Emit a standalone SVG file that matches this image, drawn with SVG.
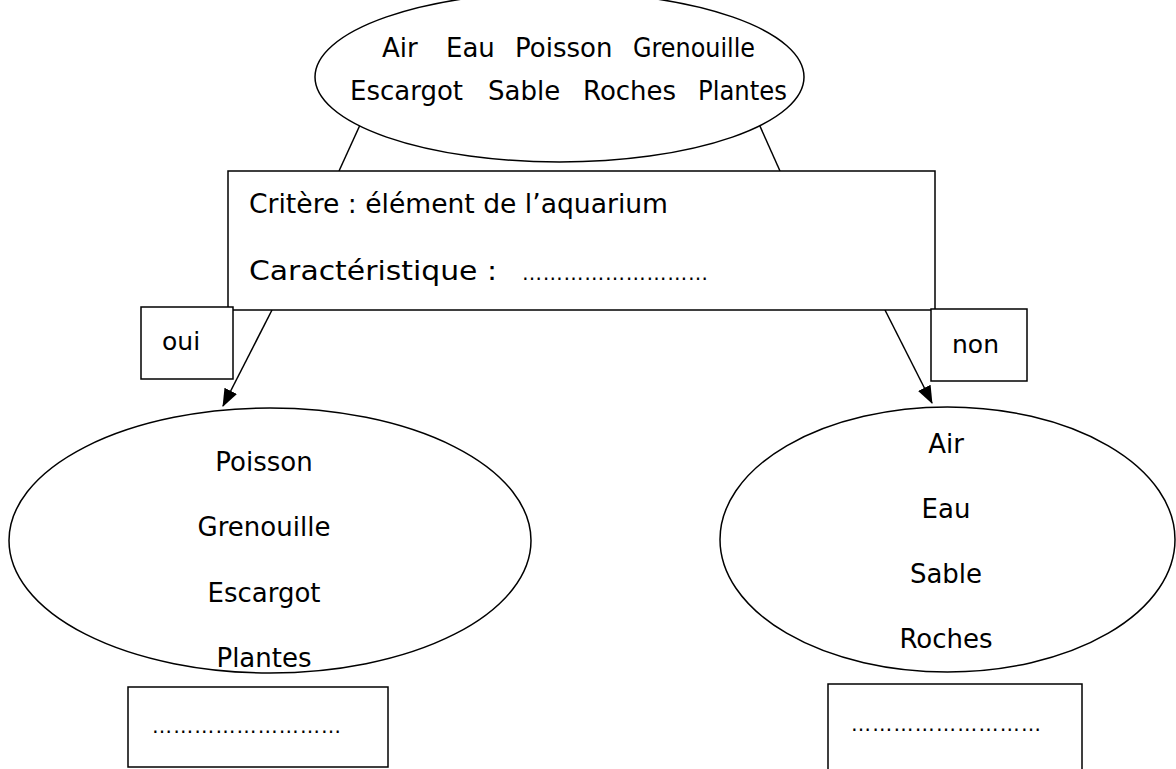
<svg xmlns="http://www.w3.org/2000/svg" width="1176" height="769" viewBox="0 0 1176 769">
<defs>
<style>
.shape{fill:#fff;stroke:#000;stroke-width:1.5}
.t{font-family:"DejaVu Sans",Verdana,sans-serif;font-size:26px;fill:#000}
.c{text-anchor:middle}
.s{font-family:"DejaVu Sans",Verdana,sans-serif;font-size:25px;fill:#000}
.d{font-family:"DejaVu Sans",sans-serif;font-size:20px;fill:#000}
.ln{stroke:#000;stroke-width:1.5;fill:none}
</style>
<marker id="arr" markerUnits="userSpaceOnUse" markerWidth="18" markerHeight="18" viewBox="0 0 18 18" refX="17" refY="9" orient="auto">
<path d="M0,2 L18,9 L0,16 Z" fill="#000"/>
</marker>
</defs>
<rect width="1176" height="769" fill="#fff"/>

<g id="connectors">
<line class="ln" x1="360" y1="125" x2="339" y2="171"/>
<line class="ln" x1="759" y1="124" x2="780" y2="171"/>
<line class="ln" x1="272" y1="310" x2="223" y2="406" marker-end="url(#arr)"/>
<line class="ln" x1="885" y1="310" x2="932" y2="403" marker-end="url(#arr)"/>
</g>

<g id="top">
<ellipse class="shape" cx="559.5" cy="77" rx="244.5" ry="85"/>
<text class="t" x="382" y="57">Air</text>
<text class="t" x="446" y="57">Eau</text>
<text class="t" x="515" y="57">Poisson</text>
<text class="t" x="633" y="57" textLength="122" lengthAdjust="spacingAndGlyphs">Grenouille</text>
<text class="t" x="350" y="100" textLength="113" lengthAdjust="spacingAndGlyphs">Escargot</text>
<text class="t" x="488" y="100">Sable</text>
<text class="t" x="583" y="100">Roches</text>
<text class="t" x="698" y="100" textLength="89" lengthAdjust="spacingAndGlyphs">Plantes</text>
</g>

<g id="critere">
<rect class="shape" x="228" y="171" width="707" height="139"/>
<text class="t" x="249" y="213" textLength="419" lengthAdjust="spacingAndGlyphs">Critère : élément de l’aquarium</text>
<text class="t" x="249" y="280" textLength="248" lengthAdjust="spacingAndGlyphs">Caractéristique :</text>
<text class="d" x="522" y="280" textLength="186" lengthAdjust="spacing">………………………</text>
</g>

<g id="oui">
<rect class="shape" x="141" y="307" width="92" height="72"/>
<text class="s" x="162" y="350">oui</text>
</g>

<g id="non">
<rect class="shape" x="931" y="309" width="96" height="72"/>
<text class="s" x="952" y="353">non</text>
</g>

<g id="gauche">
<ellipse class="shape" cx="270" cy="540.5" rx="261" ry="132.5"/>
<text class="t c" x="264" y="471">Poisson</text>
<text class="t c" x="264" y="536">Grenouille</text>
<text class="t c" x="264" y="602">Escargot</text>
<text class="t c" x="264" y="667">Plantes</text>
</g>

<g id="droite">
<ellipse class="shape" cx="947.5" cy="539.5" rx="227.5" ry="132.5"/>
<text class="t c" x="946" y="453">Air</text>
<text class="t c" x="946" y="518">Eau</text>
<text class="t c" x="946" y="583">Sable</text>
<text class="t c" x="946" y="648">Roches</text>
</g>

<g id="reponse-gauche">
<rect class="shape" x="128" y="687" width="260" height="80"/>
<text class="d" x="152" y="733" textLength="189" lengthAdjust="spacing">………………………</text>
</g>

<g id="reponse-droite">
<rect class="shape" x="828" y="684" width="254" height="100"/>
<text class="d" x="851" y="731" textLength="190" lengthAdjust="spacing">………………………</text>
</g>
</svg>
